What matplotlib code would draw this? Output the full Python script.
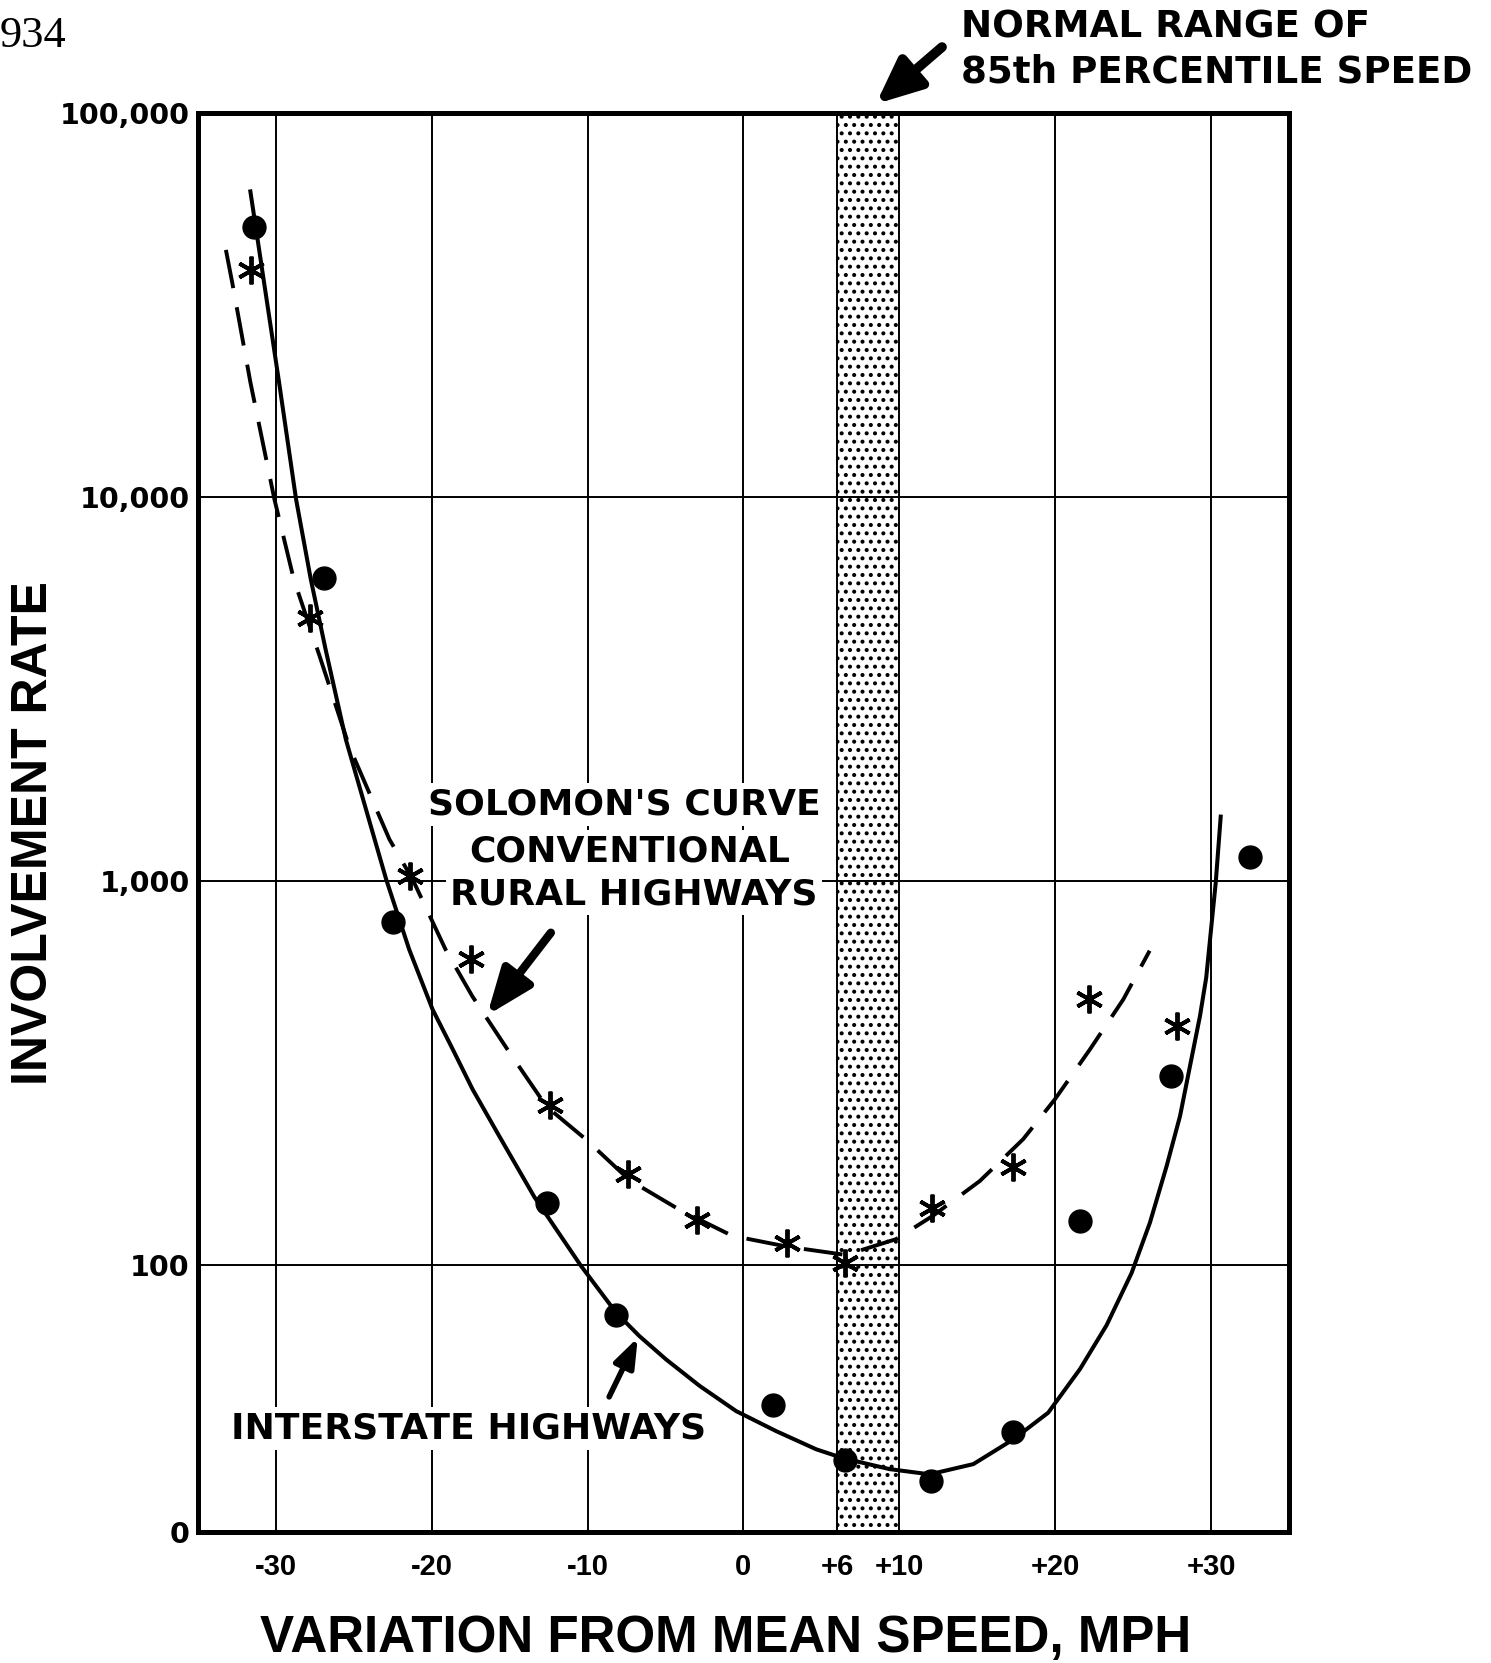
import matplotlib.pyplot as plt
from matplotlib.markers import MarkerStyle
from matplotlib.ticker import NullLocator


#- Values (speed variation in mph, involvement rate):

dot_speed = [-31.4, -26.9, -22.5, -12.6, -8.2, 1.9, 6.5, 12.0, 17.3, 21.6, 27.4, 32.5]
dot_rate = [50600, 6130, 780, 145, 74, 43, 31, 27.3, 36.6, 130, 310, 1150]

star_speed = [-31.6, -27.8, -21.4, -17.5, -12.4, -7.4, -3.0, 2.8, 6.5, 12.1, 17.3, 22.2, 27.8]
star_rate = [39000, 4840, 1030, 625, 260, 172, 131, 114, 101, 140, 180, 491, 418]

interstate_x = [-31.64, -31.30, -29.80, -28.71, -27.76, -26.81, -25.51, -22.92, -21.45, -19.95,
                -18.66, -17.38, -15.67, -13.42, -10.42, -8.17, -6.68, -4.97, -2.82, -0.47,
                2.10, 4.67, 6.38, 9.38, 11.95, 14.75, 17.30, 19.55, 21.59, 23.30,
                24.90, 26.08, 27.15, 28.01, 28.65, 29.29, 29.69, 30.30, 30.62]
interstate_y = [62500, 50600, 19900, 9870, 6090, 4000, 2330, 1006, 662, 462,
                364, 286, 216, 150, 99.1, 74.9, 65.1, 56.6, 48.3, 41.5,
                36.8, 33.0, 31.3, 29.3, 28.4, 30.2, 35.0, 41.1, 53.4, 69.5,
                95, 128.6, 180.5, 243.6, 329, 444, 559, 988, 1469]

solomon_x = [-33.21, -32.80, -31.64, -30.10, -28.85, -27.20, -25.31, -22.72, -21.22, -19.11,
             -17.40, -15.02, -12.64, -10.12, -7.32, -4.12, -0.72, 2.76, 6.57, 9.78,
             12.16, 15.16, 17.94, 19.98, 22.23, 24.37, 26.06]
solomon_y = [44000, 36100, 19900, 9870, 6090, 3850, 2243, 1282, 1006, 661,
             500, 357, 258, 212, 166, 139, 118.8, 111.4, 105.9, 116.4,
             134, 165, 212, 269.4, 363.5, 490.6, 657]

normal_range = (6, 10)
x_ticks = [-30, -20, -10, 0, 6, 10, 20, 30]
x_labels = ['-30', '-20', '-10', '0', '+6', '+10', '+20', '+30']
y_bottom = 20.1
y_ticks = [y_bottom, 100, 1000, 10000, 100000]
y_labels = ['0', '100', '1,000', '10,000', '100,000']


#- Figure and axes:

plt.rcParams['hatch.linewidth'] = 1.7
fig = plt.figure(figsize=(14.91, 16.63), dpi=100)
ax = fig.add_axes([0.1328, 0.0788, 0.7317, 0.8532])
ax.set_yscale('log')
ax.set_xlim(-35, 35)
ax.set_ylim(y_bottom, 100000)

ax.set_xticks(x_ticks)
ax.set_xticklabels(x_labels, family='Liberation Sans', fontweight='bold', fontsize=21)
ax.set_yticks(y_ticks)
ax.set_yticklabels(y_labels, family='DejaVu Sans', fontweight='bold', fontsize=20.5)
ax.yaxis.set_minor_locator(NullLocator())
ax.tick_params(axis='x', length=0, pad=15)
ax.tick_params(axis='y', length=0, pad=6)
ax.grid(True, color='black', linewidth=1.4)
ax.set_axisbelow(True)
for s in ax.spines.values():
    s.set_linewidth(3.6)

ax.axvspan(normal_range[0], normal_range[1], facecolor='white', edgecolor='black',
           hatch='..', linewidth=0, zorder=0.5)

#- Curves and points:

ax.plot(solomon_x, solomon_y, color='black', lw=2.8, linestyle=(0, (10, 5)),
        dash_capstyle='butt', solid_joinstyle='round', zorder=3)
ax.plot(interstate_x, interstate_y, color='black', lw=2.9, solid_joinstyle='round', zorder=3)
ax.plot(dot_speed, dot_rate, 'o', color='black', markersize=16.5, zorder=4)
ax.plot(star_speed, star_rate, linestyle='none',
        marker=MarkerStyle((6, 2, 0), capstyle='round'),
        color='black', markersize=20, markeredgewidth=2.8, zorder=4)

#- Annotations:

white_box = dict(facecolor='white', edgecolor='none', pad=3)
label_font = dict(family='DejaVu Sans', fontweight='bold', fontsize=26)
ax.text(-7.66, 1488, "SOLOMON'S CURVE", ha='center', va='baseline', bbox=white_box,
        zorder=5, **label_font)
ax.text(-7.28, 1121, 'CONVENTIONAL', ha='center', va='baseline', bbox=white_box,
        zorder=5, **label_font)
ax.text(-7.05, 869, 'RURAL HIGHWAYS', ha='center', va='baseline', bbox=white_box,
        zorder=5, **label_font)
ax.text(-17.61, 35.2, 'INTERSTATE HIGHWAYS', ha='center', va='baseline', bbox=white_box,
        zorder=5, **label_font)

ax.annotate('', xy=(-16.45, 446), xytext=(-12.36, 732),
            arrowprops=dict(arrowstyle='-|>,head_length=1.4,head_width=0.55',
                            mutation_scale=20, lw=6, color='black',
                            shrinkA=0, shrinkB=0), zorder=6)
ax.annotate('', xy=(-6.78, 64.5), xytext=(-8.62, 45.2),
            arrowprops=dict(arrowstyle='-|>,head_length=1.1,head_width=0.4',
                            mutation_scale=16, lw=4, color='black',
                            shrinkA=0, shrinkB=0), zorder=6)

top_font = dict(family='DejaVu Sans', fontweight='bold', fontsize=26.8)
fig.text(0.6445, 0.97715, 'NORMAL RANGE OF', ha='left', va='baseline', **top_font)
fig.text(0.6445, 0.95069, '85th PERCENTILE SPEED', ha='left', va='baseline', **top_font)
ax.annotate('', xy=(0.5875, 0.9375), xycoords='figure fraction',
            xytext=(0.6318, 0.9717), textcoords='figure fraction',
            arrowprops=dict(arrowstyle='-|>,head_length=1.35,head_width=0.6',
                            mutation_scale=20, lw=7, color='black',
                            shrinkA=0, shrinkB=0), annotation_clip=False)

fig.text(0.0, 0.9717, '934', ha='left', va='baseline', family='Liberation Serif', fontsize=32)
fig.text(0.0228, 0.499, 'INVOLVEMENT RATE', rotation=90, ha='center', va='center',
         family='Liberation Sans', fontweight='bold', fontsize=36)
fig.text(0.487, 0.015, 'VARIATION FROM MEAN SPEED, MPH', ha='center', va='center',
         family='Liberation Sans', fontweight='bold', fontsize=36.8)

fig.savefig('out.png', dpi=100)
